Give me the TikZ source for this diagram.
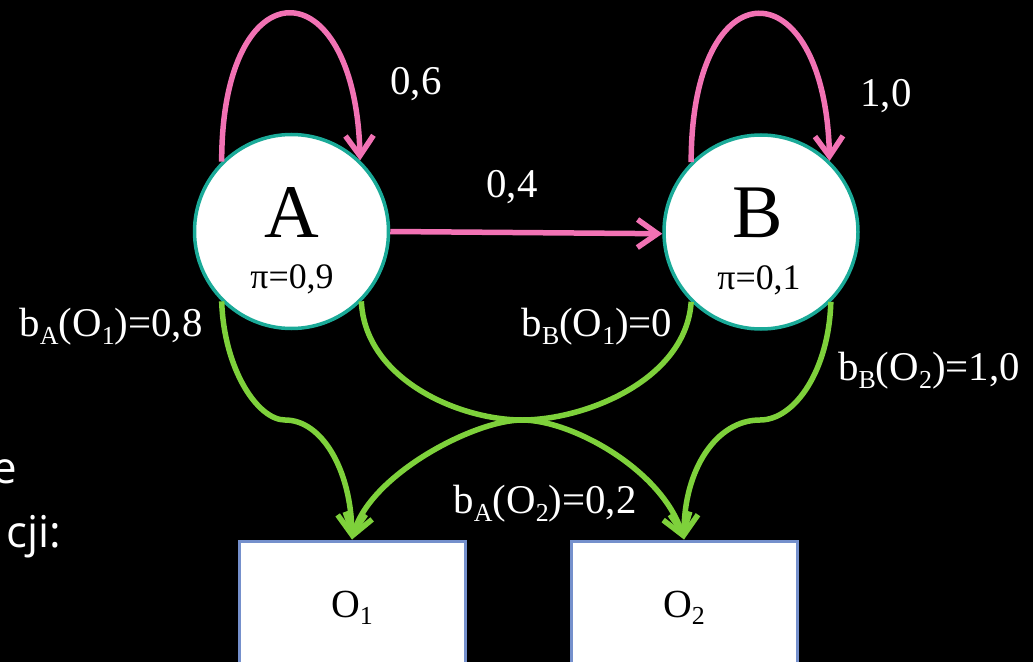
\documentclass[tikz,border=0pt]{standalone}
\usepackage{fontspec}
\setmainfont{Liberation Serif}
\newfontfamily\slidesans{Open Sans}
\usetikzlibrary{arrows.meta}
\definecolor{pinkarr}{HTML}{F272B4}
\definecolor{greenarr}{HTML}{7ED13B}
\definecolor{tealb}{HTML}{1AAA98}
\definecolor{boxb}{HTML}{7590CC}
\newcommand{\lo}[1]{\raisebox{-0.2em}{\fontsize{26}{26}\selectfont #1}}
\begin{document}
\begin{tikzpicture}[x=1bp,y=-1bp,
  state/.style={circle,draw=tealb,line width=3.5bp,fill=white,inner sep=0,minimum size=194bp},
  obs/.style={rectangle,draw=boxb,line width=3bp,fill=white,minimum width=226bp,minimum height=130bp,inner sep=0},
  trans/.style={draw=pinkarr,line width=5.5bp,-{Straight Barb[length=20bp,width=28bp]}},
  emit/.style={draw=greenarr,line width=5.5bp,-{Straight Barb[length=20bp,width=28bp]}},
  lbl/.style={text=white,font=\fontsize{41}{41}\selectfont,anchor=base,inner sep=0},
  big/.style={text=black,font=\fontsize{76}{76}\selectfont,anchor=base,inner sep=0},
  pi/.style={text=black,font=\fontsize{36}{36}\selectfont,anchor=base,inner sep=0},
  boxtxt/.style={text=black,font=\fontsize{40}{40}\selectfont,anchor=base,inner sep=0},
  slide/.style={text=white,font=\slidesans\fontsize{44}{44}\selectfont,inner sep=0},
]
\useasboundingbox (0,0) rectangle (1033,662);
\fill[black] (0,0) rectangle (1033,662);

% left slide text (cut off, as in the reference)
\node[slide,anchor=base east] (le) at (17,483) {e};
\node[slide,anchor=base west] (lc) at (6,547) {cji:};

% states
\node[state] (A) at (291.5,231.5) {};
\node[state] (B) at (761,232) {};
\node[big] (tA) at (292,237) {A};
\node[big] (tB) at (758,237) {B};
\node[pi] (pA) at (292,288) {π=0,9};
\node[pi] (pB) at (759,289) {π=0,1};

% observations
\node[obs] (O1) at (352,606) {};
\node[obs] (O2) at (684,606) {};
\node[boxtxt] (t1) at (352,617) {O\lo{1}};
\node[boxtxt] (t2) at (684,617) {O\lo{2}};

% transitions
\draw[trans] (A.135) .. controls +(0,-198) and +(-5,-195) .. (A.46);
\draw[trans] (B.135) .. controls +(0,-198) and +(-5,-195) .. (B.46);
\draw[trans] (A.0) -- (B.181);

% emissions
\draw[emit] (A.225) .. controls (224,370) and (258,420) .. (285,420)
  .. controls (322,420) and (351,470) .. (O1.north);
\draw[emit] (A.315) .. controls (365,380) and (460,420) .. (522,420)
  .. controls (572,420) and (662,470) .. (O2.north);
\draw[emit] (B.225) .. controls (686,380) and (585,420) .. (522,420)
  .. controls (474,420) and (370,475) .. (O1.north);
\draw[emit] (B.315) .. controls (829,370) and (795,420) .. (760,420)
  .. controls (716,420) and (684,470) .. (O2.north);

% labels
\node[lbl] (l06) at (416,95) {0,6};
\node[lbl] (l10) at (886,107) {1,0};
\node[lbl] (l04) at (512,198) {0,4};
\node[lbl] (lA1) at (111,336) {b\lo{A}(O\lo{1})=0,8};
\node[lbl] (lB1) at (597,336) {b\lo{B}(O\lo{1})=0};
\node[lbl] (lB2) at (929,380) {b\lo{B}(O\lo{2})=1,0};
\node[lbl] (lA2) at (545,513) {b\lo{A}(O\lo{2})=0,2};
\end{tikzpicture}
\end{document}
